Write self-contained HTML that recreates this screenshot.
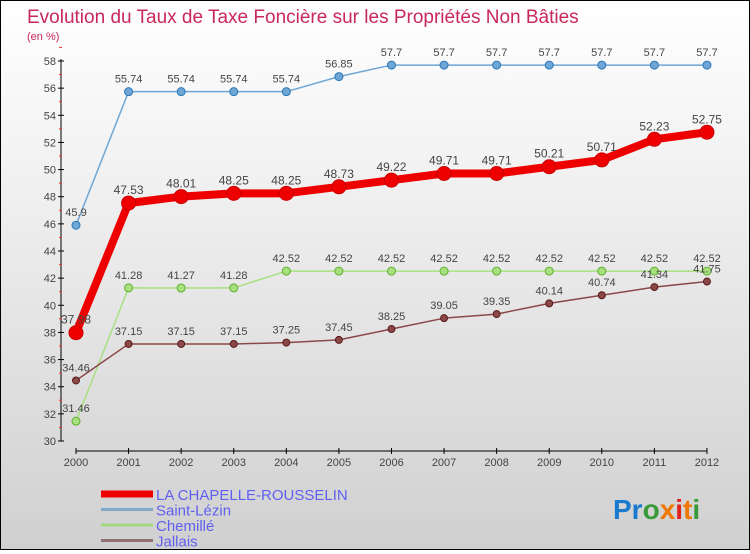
<!DOCTYPE html>
<html><head><meta charset="utf-8"><style>
body{margin:0;}
#c{width:748px;height:548px;border:1px solid #000;background:linear-gradient(#fff,#f2f2f2 30%,#d0d0d0);position:relative;font-family:"Liberation Sans",sans-serif;}
svg text{font-family:"Liberation Sans",sans-serif;}
</style></head><body>
<div id="c">
<svg id="s" width="748" height="548">
<text x="26" y="22" font-size="19" fill="#c8285a">Evolution du Taux de Taxe Foncière sur les Propriétés Non Bâties</text>
<text x="26" y="39" font-size="11" fill="#c8285a">(en %)</text>
<g id="g"></g>
<text x="612" y="518" font-size="28" font-weight="bold"><tspan fill="#1a7ad0">Pr</tspan><tspan fill="#3a9a3a">o</tspan><tspan fill="#f07800">x</tspan><tspan fill="#e02020">i</tspan><tspan fill="#f07800">t</tspan><tspan fill="#3a9a3a">i</tspan></text>
</svg></div>
<script>
const years=[2000,2001,2002,2003,2004,2005,2006,2007,2008,2009,2010,2011,2012];
const yTicks=[30,32,34,36,38,40,42,44,46,48,50,52,54,56,58];
const chapelle=[37.98,47.53,48.01,48.25,48.25,48.73,49.22,49.71,49.71,50.21,50.71,52.23,52.75];
const saintLezin=[45.9,55.74,55.74,55.74,55.74,56.85,57.7,57.7,57.7,57.7,57.7,57.7,57.7];
const chemille=[31.46,41.28,41.27,41.28,42.52,42.52,42.52,42.52,42.52,42.52,42.52,42.52,42.52];
const jallais=[34.46,37.15,37.15,37.15,37.25,37.45,38.25,39.05,39.35,40.14,40.74,41.34,41.75];
const X=i=>75+i*52.58, Y=v=>440-(v-30)*(380/28);
const g=document.getElementById('g'),NS='http://www.w3.org/2000/svg';
function el(t,a,p){const e=document.createElementNS(NS,t);for(const k in a)e.setAttribute(k,a[k]);(p||g).appendChild(e);return e;}
let e=el('line',{x1:60,y1:58,x2:60,y2:440,stroke:'#000'});


e=el('line',{x1:75,y1:450,x2:706,y2:450,stroke:'#000'});


yTicks.forEach(v=>{el('line',{x1:57,x2:63,y1:Y(v),y2:Y(v),stroke:'#000'});
 el('line',{x1:58,x2:61,y1:Y(v+1),y2:Y(v+1),stroke:'#e33'});
 const t=el('text',{x:55,y:Y(v)+4,'font-size':11,'text-anchor':'end',fill:'#444'});t.textContent=v;
 
 });
years.forEach((y,i)=>{el('line',{x1:X(i),x2:X(i),y1:447,y2:453,stroke:'#000'});
 const t=el('text',{x:X(i),y:465,'font-size':11,'text-anchor':'middle',fill:'#444'});t.textContent=y;
 
 });
function series(d,col,dark,w,r,name,fs){
 const p=el('polyline',{points:d.map((v,i)=>X(i)+','+Y(v)).join(' '),fill:'none',stroke:col,'stroke-width':w,'stroke-linejoin':'round'});
 
 
 d.forEach((v,i)=>{const c=el('circle',{cx:X(i),cy:Y(v),r:r,fill:col,stroke:dark,'stroke-width':1});
  
  
  const t=el('text',{x:X(i),y:Y(v)-9,'font-size':fs,'text-anchor':'middle',fill:'#444'});t.textContent=v;
  
  });
}
series(saintLezin,'#6ea6d6','#2a78b8',1.5,4,'saint-lezin',11);
series(chemille,'#a8e080','#60b030',1.5,4,'chemille',11);
series(jallais,'#8a4848','#5a1a1a',1.5,3.5,'jallais',11);
series(chapelle,'#ee0000','#cc0000',8,7,'chapelle',12);
const leg=[['LA CHAPELLE-ROUSSELIN','#ee0000',7],['Saint-Lézin','#80a8c8',3],['Chemillé','#a0d880',3],['Jallais','#907070',3]];
leg.forEach((l,i)=>{const y=493+i*15.5;
 const ln=el('line',{x1:100,x2:152,y1:y,y2:y,stroke:l[1],'stroke-width':l[2]});
 
 
 const t=el('text',{x:155,y:y+6,'font-size':15,fill:'#6060f0'});t.textContent=l[0];
 
 });
</script>
</body></html>
